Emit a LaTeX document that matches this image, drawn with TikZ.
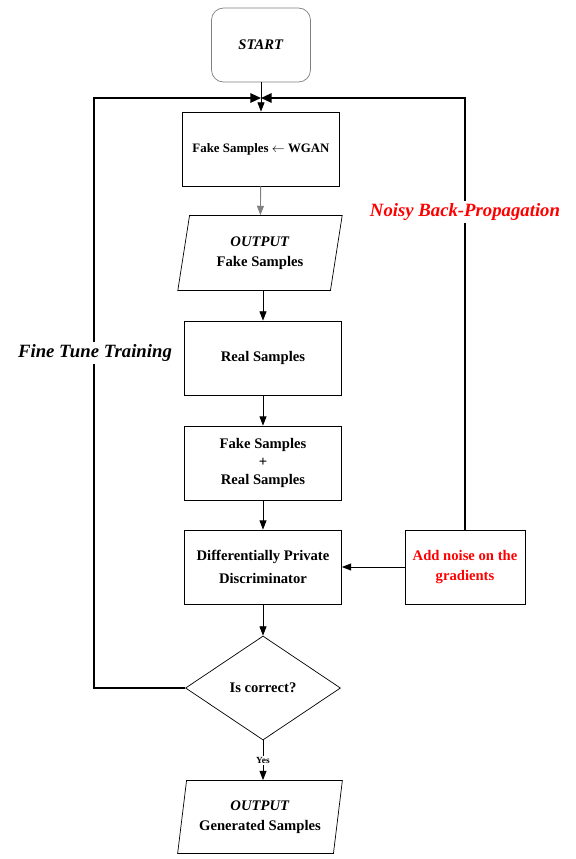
\documentclass[tikz,border=0pt]{standalone}
\usepackage{fontspec}
\setmainfont{Liberation Serif}
\usetikzlibrary{shapes.geometric}
\usetikzlibrary{arrows.meta}

\tikzset{
    box/.style={draw, line width=0.6pt, minimum width=4.71cm, minimum height=2.22cm, align=center, font=\fontsize{12.5}{17}\selectfont\bfseries},
    io/.style={draw, line width=0.6pt, trapezium, trapezium left angle=79, trapezium right angle=101, trapezium stretches=true, minimum width=4.95cm, minimum height=2.25cm, align=center, font=\fontsize{12.5}{17}\selectfont\bfseries},
    flow/.style={-{Triangle[length=8pt,width=6pt]}, line width=0.8pt},
    loopline/.style={-{Triangle[length=9pt,width=8pt]}, line width=1.5pt}
}

\begin{document}
\begin{tikzpicture}[x=0.03cm, y=-0.03cm]
    \useasboundingbox (0,0) rectangle (575,859);
    % main column
    \node[box, draw=gray, rounded corners=0.36cm, minimum width=2.97cm] (start) at (261,45) {\textit{START}};
    \node[box, font=\fontsize{11}{14}\selectfont\bfseries] (wgan) at (261,149) {Fake Samples $\leftarrow$ WGAN};
    \node[io] (outfake) at (260,253) {\textit{OUTPUT}\\Fake Samples};
    \node[box] (real) at (263,358) {Real Samples};
    \node[box, font=\fontsize{12.5}{15.4}\selectfont\bfseries] (mix) at (263,463) {Fake Samples\\+\\Real Samples};
    \node[box, font=\fontsize{12.5}{19}\selectfont\bfseries] (disc) at (263,567) {Differentially Private\\Discriminator};
    \node[box, minimum width=3.6cm, text=red] (noise) at (465,567) {Add noise on the\\gradients};
    \node[draw, diamond, line width=0.6pt, inner sep=0pt, minimum width=4.65cm, minimum height=3.12cm, font=\fontsize{12.5}{15}\selectfont\bfseries] (check) at (263,688) {Is correct?};
    \node[io, minimum height=2.19cm] (outgen) at (260,817) {\textit{OUTPUT}\\Generated Samples};
    \coordinate (merge) at (261,98);
    \coordinate (lcorner) at (94,98);

    \draw[flow] (start) -- (wgan);
    \draw[flow, draw=gray] (wgan) -- (outfake);
    \draw[flow] (outfake.south -| real.north) -- (real);
    \draw[flow] (real) -- (mix);
    \draw[flow] (mix) -- (disc);
    \draw[flow] (disc) -- (check);
    \draw[flow] (noise) -- (disc);
    \draw[flow] (check) -- node[fill=white, inner sep=1pt, font=\fontsize{8}{9}\selectfont\bfseries] {Yes} (outgen.north -| check.south);

    % feedback loops
    \draw[loopline] (noise.north) |- (merge);
    \draw[loopline] (check.west) -| (lcorner) -- (merge);
    \node[fill=white, inner sep=2pt, font=\fontsize{16}{18}\selectfont\bfseries\itshape] (finetune) at (95,353) {Fine Tune Training};
    \node[fill=white, inner sep=2pt, text=red, font=\fontsize{16}{18}\selectfont\bfseries\itshape] (noisybp) at (465,212) {Noisy Back-Propagation};
\end{tikzpicture}
\end{document}
